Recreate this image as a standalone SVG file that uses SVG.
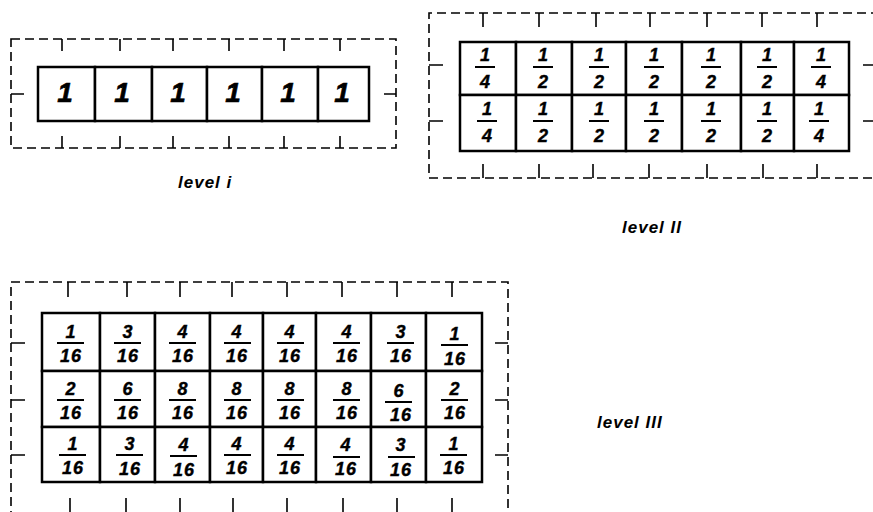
<svg xmlns="http://www.w3.org/2000/svg" width="873" height="512" viewBox="0 0 873 512">
<style>
.frame{fill:none;stroke:#000;stroke-width:1.6;stroke-dasharray:9 5}
.tick{stroke:#000;stroke-width:1.6;fill:none}
.cell{fill:#fff;stroke:#000;stroke-width:2.5}
.bar{stroke:#000;stroke-width:2}
.big{font-family:"Liberation Sans",Arial,sans-serif;font-weight:bold;font-style:italic;font-size:28px;text-anchor:middle;fill:#000;stroke:#000;stroke-width:0.6}
.fr{font-family:"Liberation Sans",Arial,sans-serif;font-weight:bold;font-style:italic;font-size:18px;text-anchor:middle;fill:#000;stroke:#000;stroke-width:0.4}
.fr3{font-family:"Liberation Sans",Arial,sans-serif;font-weight:bold;font-style:italic;font-size:18px;letter-spacing:1px;text-anchor:middle;fill:#000;stroke:#000;stroke-width:0.4}
.lbl{font-family:"Liberation Sans",Arial,sans-serif;font-weight:bold;font-style:italic;font-size:17px;letter-spacing:1px;fill:#000}
</style>
<rect width="873" height="512" fill="#fff"/>

<g id="level1">
<g id="frame1">
<rect class="frame" x="11" y="39" width="385" height="109"/>
<path class="tick" d="M62 39v12M120 39v12M173 39v12M229 39v12M284 39v12M340 39v12M62 148v-12M120 148v-12M173 148v-12M229 148v-12M284 148v-12M340 148v-12M11 94h13M396 94h-12"/>
</g>
<g id="l1c1"><rect class="cell" x="38" y="67" width="57" height="54"/><text class="big" x="65" y="102">1</text></g>
<g id="l1c2"><rect class="cell" x="95" y="67" width="57" height="54"/><text class="big" x="122" y="102">1</text></g>
<g id="l1c3"><rect class="cell" x="152" y="67" width="55" height="54"/><text class="big" x="178" y="102">1</text></g>
<g id="l1c4"><rect class="cell" x="207" y="67" width="55" height="54"/><text class="big" x="233" y="102">1</text></g>
<g id="l1c5"><rect class="cell" x="262" y="67" width="56" height="54"/><text class="big" x="288" y="102">1</text></g>
<g id="l1c6"><rect class="cell" x="318" y="67" width="51" height="54"/><text class="big" x="342" y="102">1</text></g>
<text id="label1" class="lbl" x="178" y="188">level i</text>
</g>

<g id="level2">
<g id="frame2">
<path class="frame" d="M880 13H429V178H880"/>
<path class="tick" d="M483 13v14M539 13v14M596 13v14M650 13v14M707 13v14M762 13v14M817 13v14M483 178v-14M539 178v-14M593 178v-14M649 178v-14M707 178v-14M763 178v-14M817 178v-14M429 65h14M429 121h14M863 65h10M863 121h10"/>
</g>
<g id="l2r1c1"><rect class="cell" x="460" y="42" width="56" height="53"/><text class="fr" x="485" y="61">1</text><line class="bar" x1="475" y1="67" x2="495" y2="67"/><text class="fr" x="485" y="88">4</text></g>
<g id="l2r1c2"><rect class="cell" x="516" y="42" width="56" height="53"/><text class="fr" x="543" y="61">1</text><line class="bar" x1="533" y1="67" x2="553" y2="67"/><text class="fr" x="543" y="88">2</text></g>
<g id="l2r1c3"><rect class="cell" x="572" y="42" width="54" height="53"/><text class="fr" x="599" y="61">1</text><line class="bar" x1="589" y1="67" x2="609" y2="67"/><text class="fr" x="599" y="88">2</text></g>
<g id="l2r1c4"><rect class="cell" x="626" y="42" width="56" height="53"/><text class="fr" x="654" y="61">1</text><line class="bar" x1="644" y1="67" x2="664" y2="67"/><text class="fr" x="654" y="88">2</text></g>
<g id="l2r1c5"><rect class="cell" x="682" y="42" width="59" height="53"/><text class="fr" x="711" y="61">1</text><line class="bar" x1="701" y1="67" x2="721" y2="67"/><text class="fr" x="711" y="88">2</text></g>
<g id="l2r1c6"><rect class="cell" x="741" y="42" width="53" height="53"/><text class="fr" x="767" y="61">1</text><line class="bar" x1="757" y1="67" x2="777" y2="67"/><text class="fr" x="767" y="88">2</text></g>
<g id="l2r1c7"><rect class="cell" x="794" y="42" width="55" height="53"/><text class="fr" x="821" y="61">1</text><line class="bar" x1="811" y1="67" x2="831" y2="67"/><text class="fr" x="821" y="88">4</text></g>
<g id="l2r2c1"><rect class="cell" x="460" y="95" width="56" height="56"/><text class="fr" x="487" y="115">1</text><line class="bar" x1="477" y1="121" x2="497" y2="121"/><text class="fr" x="487" y="142">4</text></g>
<g id="l2r2c2"><rect class="cell" x="516" y="95" width="56" height="56"/><text class="fr" x="543" y="115">1</text><line class="bar" x1="533" y1="121" x2="553" y2="121"/><text class="fr" x="543" y="142">2</text></g>
<g id="l2r2c3"><rect class="cell" x="572" y="95" width="54" height="56"/><text class="fr" x="599" y="115">1</text><line class="bar" x1="589" y1="121" x2="609" y2="121"/><text class="fr" x="599" y="142">2</text></g>
<g id="l2r2c4"><rect class="cell" x="626" y="95" width="56" height="56"/><text class="fr" x="654" y="115">1</text><line class="bar" x1="644" y1="121" x2="664" y2="121"/><text class="fr" x="654" y="142">2</text></g>
<g id="l2r2c5"><rect class="cell" x="682" y="95" width="59" height="56"/><text class="fr" x="711" y="115">1</text><line class="bar" x1="701" y1="121" x2="721" y2="121"/><text class="fr" x="711" y="142">2</text></g>
<g id="l2r2c6"><rect class="cell" x="741" y="95" width="53" height="56"/><text class="fr" x="767" y="115">1</text><line class="bar" x1="757" y1="121" x2="777" y2="121"/><text class="fr" x="767" y="142">2</text></g>
<g id="l2r2c7"><rect class="cell" x="794" y="95" width="55" height="56"/><text class="fr" x="819" y="115">1</text><line class="bar" x1="809" y1="121" x2="829" y2="121"/><text class="fr" x="819" y="142">4</text></g>
<text id="label2" class="lbl" x="622" y="233">level II</text>
</g>

<g id="level3">
<g id="frame3">
<path class="frame" d="M11 520V282H508V520"/>
<path class="tick" d="M68 282v15M127 282v15M180 282v15M232 282v15M287 282v15M342 282v15M397 282v15M452 282v15M70 512v-14M126 512v-14M180 512v-14M233 512v-14M287 512v-14M343 512v-14M397 512v-14M452 512v-14M11 343h14M11 400h14M11 455h14M508 343h-13M508 400h-13M508 455h-13"/>
</g>
<g id="l3r1c1"><rect class="cell" x="42" y="313" width="58" height="58"/><text class="fr3" x="71" y="338">1</text><line class="bar" x1="57" y1="343" x2="84" y2="343"/><text class="fr3" x="71" y="362">16</text></g>
<g id="l3r1c2"><rect class="cell" x="100" y="313" width="55" height="58"/><text class="fr3" x="128" y="338">3</text><line class="bar" x1="114" y1="343" x2="141" y2="343"/><text class="fr3" x="128" y="362">16</text></g>
<g id="l3r1c3"><rect class="cell" x="155" y="313" width="55" height="58"/><text class="fr3" x="183" y="338">4</text><line class="bar" x1="169" y1="343" x2="196" y2="343"/><text class="fr3" x="183" y="362">16</text></g>
<g id="l3r1c4"><rect class="cell" x="210" y="313" width="53" height="58"/><text class="fr3" x="237" y="338">4</text><line class="bar" x1="224" y1="343" x2="251" y2="343"/><text class="fr3" x="237" y="362">16</text></g>
<g id="l3r1c5"><rect class="cell" x="263" y="313" width="53" height="58"/><text class="fr3" x="290" y="338">4</text><line class="bar" x1="277" y1="343" x2="304" y2="343"/><text class="fr3" x="290" y="362">16</text></g>
<g id="l3r1c6"><rect class="cell" x="316" y="313" width="55" height="58"/><text class="fr3" x="347" y="338">4</text><line class="bar" x1="333" y1="343" x2="360" y2="343"/><text class="fr3" x="347" y="362">16</text></g>
<g id="l3r1c7"><rect class="cell" x="371" y="313" width="55" height="58"/><text class="fr3" x="401" y="338">3</text><line class="bar" x1="387" y1="343" x2="414" y2="343"/><text class="fr3" x="401" y="362">16</text></g>
<g id="l3r1c8"><rect class="cell" x="426" y="313" width="56" height="58"/><text class="fr3" x="455" y="340">1</text><line class="bar" x1="441" y1="345" x2="468" y2="345"/><text class="fr3" x="455" y="365">16</text></g>
<g id="l3r2c1"><rect class="cell" x="42" y="371" width="58" height="56"/><text class="fr3" x="71" y="395">2</text><line class="bar" x1="57" y1="400" x2="84" y2="400"/><text class="fr3" x="71" y="419">16</text></g>
<g id="l3r2c2"><rect class="cell" x="100" y="371" width="55" height="56"/><text class="fr3" x="128" y="395">6</text><line class="bar" x1="114" y1="400" x2="141" y2="400"/><text class="fr3" x="128" y="419">16</text></g>
<g id="l3r2c3"><rect class="cell" x="155" y="371" width="55" height="56"/><text class="fr3" x="183" y="395">8</text><line class="bar" x1="169" y1="400" x2="196" y2="400"/><text class="fr3" x="183" y="419">16</text></g>
<g id="l3r2c4"><rect class="cell" x="210" y="371" width="53" height="56"/><text class="fr3" x="237" y="395">8</text><line class="bar" x1="224" y1="400" x2="251" y2="400"/><text class="fr3" x="237" y="419">16</text></g>
<g id="l3r2c5"><rect class="cell" x="263" y="371" width="53" height="56"/><text class="fr3" x="290" y="395">8</text><line class="bar" x1="277" y1="400" x2="304" y2="400"/><text class="fr3" x="290" y="419">16</text></g>
<g id="l3r2c6"><rect class="cell" x="316" y="371" width="55" height="56"/><text class="fr3" x="347" y="395">8</text><line class="bar" x1="333" y1="400" x2="360" y2="400"/><text class="fr3" x="347" y="419">16</text></g>
<g id="l3r2c7"><rect class="cell" x="371" y="371" width="55" height="56"/><text class="fr3" x="399" y="397">6</text><line class="bar" x1="385" y1="402" x2="412" y2="402"/><text class="fr3" x="401" y="421">16</text></g>
<g id="l3r2c8"><rect class="cell" x="426" y="371" width="56" height="56"/><text class="fr3" x="455" y="395">2</text><line class="bar" x1="441" y1="400" x2="468" y2="400"/><text class="fr3" x="455" y="419">16</text></g>
<g id="l3r3c1"><rect class="cell" x="42" y="427" width="58" height="55"/><text class="fr3" x="73" y="450">1</text><line class="bar" x1="59" y1="455" x2="86" y2="455"/><text class="fr3" x="73" y="474">16</text></g>
<g id="l3r3c2"><rect class="cell" x="100" y="427" width="55" height="55"/><text class="fr3" x="130" y="450">3</text><line class="bar" x1="116" y1="455" x2="143" y2="455"/><text class="fr3" x="130" y="475">16</text></g>
<g id="l3r3c3"><rect class="cell" x="155" y="427" width="55" height="55"/><text class="fr3" x="184" y="451">4</text><line class="bar" x1="170" y1="456" x2="197" y2="456"/><text class="fr3" x="184" y="476">16</text></g>
<g id="l3r3c4"><rect class="cell" x="210" y="427" width="53" height="55"/><text class="fr3" x="237" y="450">4</text><line class="bar" x1="224" y1="455" x2="251" y2="455"/><text class="fr3" x="237" y="474">16</text></g>
<g id="l3r3c5"><rect class="cell" x="263" y="427" width="53" height="55"/><text class="fr3" x="290" y="450">4</text><line class="bar" x1="277" y1="455" x2="304" y2="455"/><text class="fr3" x="290" y="474">16</text></g>
<g id="l3r3c6"><rect class="cell" x="316" y="427" width="55" height="55"/><text class="fr3" x="346" y="451">4</text><line class="bar" x1="333" y1="457" x2="360" y2="457"/><text class="fr3" x="346" y="475">16</text></g>
<g id="l3r3c7"><rect class="cell" x="371" y="427" width="55" height="55"/><text class="fr3" x="401" y="451">3</text><line class="bar" x1="388" y1="457" x2="415" y2="457"/><text class="fr3" x="401" y="476">16</text></g>
<g id="l3r3c8"><rect class="cell" x="426" y="427" width="56" height="55"/><text class="fr3" x="454" y="450">1</text><line class="bar" x1="440" y1="455" x2="467" y2="455"/><text class="fr3" x="454" y="474">16</text></g>
<text id="label3" class="lbl" x="597" y="428">level III</text>
</g>

<g id="connectors"></g>
</svg>
